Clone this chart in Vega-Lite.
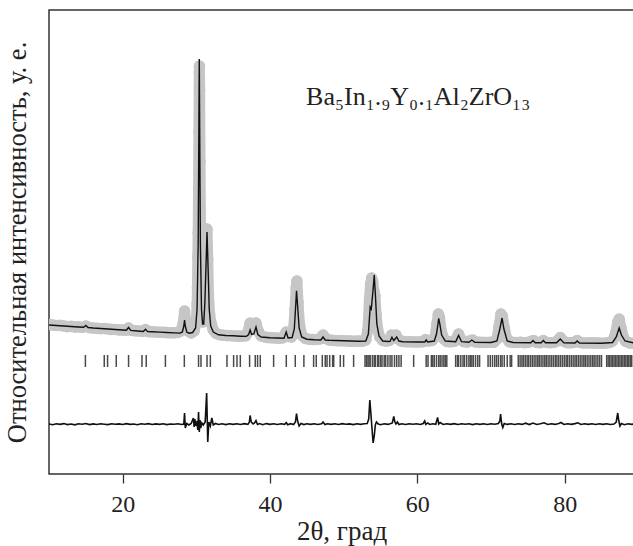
{
  "$schema": "https://vega.github.io/schema/vega-lite/v6.json",
  "autosize": "none",
  "width": 585,
  "height": 464,
  "padding": {"left": 49, "top": 10, "right": 0, "bottom": 72},
  "background": "white",
  "config": {
    "view": {"stroke": "#333333", "strokeWidth": 1.5},
    "font": "Liberation Serif, Times New Roman, Times, serif",
    "axis": {"labelFont": "Liberation Serif, Times New Roman, Times, serif", "titleFont": "Liberation Serif, Times New Roman, Times, serif", "grid": false, "domain": false, "titleFontWeight": "normal", "titleColor": "#222222", "labelColor": "#222222"},
    "axisX": {"tickSize": 9, "tickColor": "#333333", "tickWidth": 1.3, "labelFontSize": 24, "labelPadding": 9, "titleFontSize": 27, "titlePadding": 2},
    "axisY": {"labels": false, "ticks": false, "titleFontSize": 26.5, "titlePadding": 18}
  },
  "datasets": {
    "obs": [
      {"x":10,"y":149.5},{"x":10.5,"y":149},{"x":11,"y":148.5},{"x":11.5,"y":148.6},{"x":12,"y":148},{"x":12.5,"y":147.4},{"x":13,"y":147.6},{"x":13.5,"y":147},{"x":14,"y":147.2},{"x":14.5,"y":146.5},{"x":15,"y":148},{"x":15.5,"y":146.4},{"x":16,"y":146},{"x":16.5,"y":145.8},{"x":17,"y":145.4},{"x":17.5,"y":145.5},{"x":18,"y":145},{"x":18.5,"y":144.6},{"x":19,"y":144.5},{"x":19.5,"y":144.1},{"x":20,"y":144},{"x":20.5,"y":143.8},{"x":20.8,"y":146},{"x":21.2,"y":143.6},{"x":21.7,"y":143.2},{"x":22.2,"y":143},{"x":22.7,"y":142.6},{"x":23.1,"y":144.5},{"x":23.5,"y":142.3},{"x":24,"y":142.2},{"x":24.5,"y":142},{"x":25,"y":141.8},{"x":25.5,"y":141.7},{"x":26,"y":141.4},{"x":26.5,"y":141.2},{"x":27,"y":141.3},{"x":27.5,"y":141.6},{"x":27.9,"y":143},{"x":28.2,"y":150},{"x":28.4,"y":163},{"x":28.6,"y":152},{"x":28.9,"y":143},{"x":29.3,"y":141},{"x":29.7,"y":143},{"x":30.0,"y":152},{"x":30.1,"y":170},{"x":30.15,"y":187},{"x":30.2,"y":217},{"x":30.25,"y":241},{"x":30.3,"y":286},{"x":30.35,"y":342},{"x":30.4,"y":402},{"x":30.42,"y":408},{"x":30.45,"y":384},{"x":30.5,"y":312},{"x":30.55,"y":262},{"x":30.6,"y":204},{"x":30.65,"y":177},{"x":30.75,"y":160},{"x":30.9,"y":152},{"x":31.05,"y":158},{"x":31.2,"y":185},{"x":31.35,"y":225},{"x":31.45,"y":245},{"x":31.55,"y":215},{"x":31.65,"y":180},{"x":31.8,"y":160},{"x":32.0,"y":151},{"x":32.3,"y":144},{"x":32.7,"y":140.5},{"x":33.2,"y":139.3},{"x":33.7,"y":138.8},{"x":34.2,"y":138.4},{"x":34.7,"y":138.3},{"x":35.2,"y":138},{"x":35.7,"y":137.9},{"x":36.2,"y":137.8},{"x":36.7,"y":138.2},{"x":37.0,"y":142},{"x":37.3,"y":151},{"x":37.6,"y":146},{"x":37.85,"y":147},{"x":38.1,"y":151},{"x":38.4,"y":143},{"x":38.8,"y":138},{"x":39.3,"y":137},{"x":39.8,"y":136.4},{"x":40.3,"y":136.2},{"x":40.8,"y":136},{"x":41.3,"y":135.8},{"x":41.8,"y":136.3},{"x":42.2,"y":142},{"x":42.5,"y":137.5},{"x":42.9,"y":137},{"x":43.2,"y":145},{"x":43.4,"y":165},{"x":43.55,"y":186},{"x":43.65,"y":193},{"x":43.8,"y":172},{"x":44.0,"y":150},{"x":44.3,"y":139},{"x":44.8,"y":135.5},{"x":45.3,"y":134.8},{"x":45.8,"y":134.4},{"x":46.3,"y":134.5},{"x":46.8,"y":135},{"x":47.2,"y":139},{"x":47.6,"y":135.5},{"x":48.0,"y":134},{"x":48.5,"y":133.6},{"x":49,"y":133.4},{"x":49.5,"y":133.2},{"x":50,"y":133.3},{"x":50.5,"y":133},{"x":51,"y":132.9},{"x":51.5,"y":132.8},{"x":52,"y":132.9},{"x":52.5,"y":132.7},{"x":53.0,"y":134},{"x":53.3,"y":145},{"x":53.5,"y":175},{"x":53.65,"y":190},{"x":53.8,"y":196},{"x":53.95,"y":192},{"x":54.1,"y":183},{"x":54.25,"y":178},{"x":54.4,"y":160},{"x":54.6,"y":145},{"x":54.9,"y":137},{"x":55.3,"y":133.5},{"x":55.8,"y":132.8},{"x":56.2,"y":133.5},{"x":56.5,"y":139},{"x":56.8,"y":137},{"x":57.1,"y":139},{"x":57.4,"y":135},{"x":57.8,"y":133},{"x":58.3,"y":132.4},{"x":58.8,"y":132.2},{"x":59.3,"y":132.2},{"x":59.8,"y":132},{"x":60.3,"y":132.1},{"x":60.8,"y":132.3},{"x":61.1,"y":134.5},{"x":61.5,"y":133},{"x":62.0,"y":133.5},{"x":62.4,"y":137},{"x":62.65,"y":150},{"x":62.85,"y":160},{"x":63.0,"y":157},{"x":63.25,"y":143},{"x":63.6,"y":135},{"x":64.0,"y":132.5},{"x":64.5,"y":132.2},{"x":65.0,"y":132.6},{"x":65.35,"y":136},{"x":65.6,"y":140},{"x":65.9,"y":135},{"x":66.3,"y":132.3},{"x":66.8,"y":132},{"x":67.2,"y":133.5},{"x":67.5,"y":134},{"x":67.9,"y":132},{"x":68.4,"y":131.8},{"x":68.9,"y":131.6},{"x":69.4,"y":131.5},{"x":69.9,"y":131.7},{"x":70.4,"y":131.8},{"x":70.8,"y":135},{"x":71.1,"y":148},{"x":71.35,"y":160},{"x":71.55,"y":158},{"x":71.8,"y":146},{"x":72.1,"y":136},{"x":72.5,"y":132.2},{"x":73,"y":131.6},{"x":73.5,"y":131.5},{"x":74,"y":131.8},{"x":74.5,"y":131.3},{"x":75,"y":131.5},{"x":75.5,"y":132.8},{"x":75.8,"y":133.5},{"x":76.2,"y":131.5},{"x":76.7,"y":131.3},{"x":77.1,"y":133.5},{"x":77.5,"y":131.6},{"x":78,"y":131.3},{"x":78.5,"y":131.5},{"x":79.0,"y":133},{"x":79.4,"y":136.5},{"x":79.8,"y":133},{"x":80.3,"y":131.4},{"x":80.8,"y":131.2},{"x":81.3,"y":131.8},{"x":81.7,"y":133.5},{"x":82.1,"y":131.5},{"x":82.6,"y":131},{"x":83.1,"y":131},{"x":83.6,"y":131.2},{"x":84.1,"y":130.9},{"x":84.6,"y":131},{"x":85.1,"y":130.8},{"x":85.6,"y":131},{"x":86.1,"y":131.5},{"x":86.5,"y":133},{"x":86.9,"y":140},{"x":87.2,"y":152},{"x":87.4,"y":155},{"x":87.65,"y":146},{"x":87.95,"y":137},{"x":88.3,"y":132.5},{"x":88.8,"y":131},{"x":89.4,"y":130.8}
    ],
    "calc": [
      {"x":10,"y":149},{"x":11,"y":148.5},{"x":12,"y":148},{"x":13,"y":147.5},{"x":14,"y":147},{"x":14.7,"y":146.7},{"x":15.0,"y":148.5},{"x":15.3,"y":146.5},{"x":16,"y":146},{"x":17,"y":145.5},{"x":18,"y":145},{"x":19,"y":144.5},{"x":20,"y":144},{"x":20.5,"y":143.8},{"x":20.8,"y":146.5},{"x":21.1,"y":143.6},{"x":22,"y":143},{"x":22.8,"y":142.5},{"x":23.1,"y":144.8},{"x":23.4,"y":142.4},{"x":24,"y":142.3},{"x":25,"y":141.9},{"x":26,"y":141.5},{"x":27,"y":141.1},{"x":27.8,"y":140.9},{"x":28.1,"y":142},{"x":28.3,"y":148},{"x":28.4,"y":154},{"x":28.5,"y":148},{"x":28.7,"y":142},{"x":29,"y":140.8},{"x":29.5,"y":141.5},{"x":29.9,"y":146},{"x":30.1,"y":165},{"x":30.25,"y":230},{"x":30.4,"y":415},{"x":30.55,"y":230},{"x":30.7,"y":165},{"x":30.85,"y":150},{"x":31.0,"y":150},{"x":31.15,"y":170},{"x":31.3,"y":205},{"x":31.45,"y":242},{"x":31.6,"y":205},{"x":31.75,"y":165},{"x":31.95,"y":148},{"x":32.3,"y":142},{"x":33,"y":139.2},{"x":34,"y":138.5},{"x":35,"y":138.2},{"x":36,"y":137.8},{"x":36.8,"y":137.6},{"x":37.1,"y":139.5},{"x":37.3,"y":144},{"x":37.5,"y":139.5},{"x":37.8,"y":140},{"x":38.1,"y":147},{"x":38.35,"y":139.5},{"x":38.8,"y":137},{"x":40,"y":136.3},{"x":41,"y":136},{"x":41.9,"y":135.8},{"x":42.2,"y":142},{"x":42.45,"y":136},{"x":43,"y":136.5},{"x":43.3,"y":145},{"x":43.5,"y":170},{"x":43.6,"y":183.3},{"x":43.75,"y":168},{"x":43.95,"y":146},{"x":44.3,"y":137},{"x":45,"y":134.8},{"x":46,"y":134.3},{"x":46.9,"y":134},{"x":47.2,"y":137},{"x":47.5,"y":134},{"x":48,"y":133.7},{"x":50,"y":133.2},{"x":52,"y":132.8},{"x":53,"y":133},{"x":53.35,"y":140},{"x":53.6,"y":167},{"x":53.75,"y":165},{"x":54.0,"y":185},{"x":54.15,"y":199},{"x":54.3,"y":180},{"x":54.5,"y":150},{"x":54.8,"y":138},{"x":55.3,"y":133},{"x":56,"y":132.5},{"x":56.3,"y":132.7},{"x":56.55,"y":136.7},{"x":56.8,"y":133.5},{"x":57.2,"y":137},{"x":57.5,"y":133},{"x":58,"y":132.3},{"x":60,"y":132},{"x":61,"y":132},{"x":61.2,"y":134},{"x":61.4,"y":132},{"x":62.3,"y":133},{"x":62.6,"y":140},{"x":62.8,"y":150},{"x":62.9,"y":155.5},{"x":63.05,"y":150},{"x":63.3,"y":139},{"x":63.8,"y":133},{"x":65.2,"y":132.3},{"x":65.6,"y":138.5},{"x":66.0,"y":132.3},{"x":67,"y":131.8},{"x":67.4,"y":134},{"x":67.8,"y":131.8},{"x":70,"y":131.5},{"x":70.8,"y":133},{"x":71.2,"y":145},{"x":71.5,"y":156},{"x":71.75,"y":145},{"x":72.2,"y":133},{"x":73,"y":131.5},{"x":75.4,"y":131.3},{"x":75.7,"y":133.5},{"x":76,"y":131.3},{"x":76.8,"y":131.2},{"x":77.1,"y":133.5},{"x":77.4,"y":131.2},{"x":78.9,"y":131.2},{"x":79.4,"y":135},{"x":79.9,"y":131.1},{"x":81.4,"y":131},{"x":81.7,"y":133},{"x":82,"y":131},{"x":85,"y":130.8},{"x":86.5,"y":131.5},{"x":87.0,"y":137},{"x":87.4,"y":146},{"x":87.7,"y":139},{"x":88.2,"y":133},{"x":89.4,"y":131}
    ],
    "diff": [
      {"x":10,"y":50},{"x":10.5,"y":49.3},{"x":11,"y":50.2},{"x":11.5,"y":49.6},{"x":12,"y":50.4},{"x":12.5,"y":49.4},{"x":13,"y":50},{"x":13.5,"y":49.2},{"x":14,"y":50.3},{"x":14.5,"y":49.7},{"x":15,"y":50.5},{"x":15.5,"y":49.4},{"x":16,"y":50.1},{"x":16.5,"y":49.5},{"x":17,"y":50.2},{"x":17.5,"y":49.8},{"x":18,"y":49.4},{"x":18.5,"y":50.3},{"x":19,"y":49.7},{"x":19.5,"y":50.1},{"x":20,"y":49.5},{"x":20.5,"y":50.4},{"x":21,"y":49.6},{"x":21.5,"y":50},{"x":22,"y":49.3},{"x":22.5,"y":50.2},{"x":23,"y":49.8},{"x":23.5,"y":50.4},{"x":24,"y":49.5},{"x":24.5,"y":50.1},{"x":25,"y":49.6},{"x":25.5,"y":50.3},{"x":26,"y":49.4},{"x":26.5,"y":50},{"x":27,"y":49.7},{"x":27.5,"y":50.3},{"x":28.0,"y":49.5},{"x":28.3,"y":50},{"x":28.4,"y":61},{"x":28.5,"y":46},{"x":28.7,"y":50.5},{"x":29.0,"y":49},{"x":29.3,"y":50.5},{"x":29.6,"y":56},{"x":29.7,"y":47},{"x":29.8,"y":55},{"x":29.95,"y":48},{"x":30.1,"y":53},{"x":30.2,"y":44},{"x":30.3,"y":62},{"x":30.4,"y":42},{"x":30.5,"y":54},{"x":30.6,"y":46},{"x":30.75,"y":51},{"x":30.95,"y":49},{"x":31.2,"y":52},{"x":31.4,"y":81},{"x":31.55,"y":32},{"x":31.7,"y":52},{"x":31.9,"y":48},{"x":32.1,"y":56},{"x":32.3,"y":49},{"x":32.6,"y":50.5},{"x":33,"y":49.5},{"x":33.5,"y":50.2},{"x":34,"y":49.4},{"x":34.5,"y":50.3},{"x":35,"y":49.6},{"x":35.5,"y":50.2},{"x":36,"y":49.5},{"x":36.5,"y":50.4},{"x":37.0,"y":49.6},{"x":37.2,"y":52},{"x":37.3,"y":58.5},{"x":37.45,"y":52},{"x":37.7,"y":50},{"x":37.9,"y":51},{"x":38.1,"y":53.5},{"x":38.3,"y":49.5},{"x":38.6,"y":50.5},{"x":39,"y":49.3},{"x":39.5,"y":50.4},{"x":40,"y":49.6},{"x":40.5,"y":50.3},{"x":41,"y":49.5},{"x":41.5,"y":50.2},{"x":42,"y":49.7},{"x":42.2,"y":51.5},{"x":42.4,"y":49.2},{"x":42.8,"y":50.3},{"x":43.2,"y":49.5},{"x":43.45,"y":52},{"x":43.6,"y":60.5},{"x":43.75,"y":53},{"x":43.95,"y":48},{"x":44.2,"y":50.5},{"x":44.6,"y":49.4},{"x":45,"y":50.2},{"x":45.5,"y":49.6},{"x":46,"y":50.3},{"x":46.5,"y":49.5},{"x":47.0,"y":50.2},{"x":47.2,"y":52},{"x":47.45,"y":49.5},{"x":47.8,"y":50.3},{"x":48.3,"y":49.6},{"x":48.8,"y":50.2},{"x":49.3,"y":49.5},{"x":49.8,"y":50.4},{"x":50.3,"y":49.7},{"x":50.8,"y":50.1},{"x":51.3,"y":49.4},{"x":51.8,"y":50.3},{"x":52.3,"y":49.6},{"x":52.8,"y":50.2},{"x":53.2,"y":50.5},{"x":53.4,"y":55},{"x":53.55,"y":74},{"x":53.7,"y":60},{"x":53.85,"y":45},{"x":54.0,"y":31},{"x":54.15,"y":38},{"x":54.3,"y":49},{"x":54.45,"y":52},{"x":54.7,"y":50},{"x":55,"y":49.3},{"x":55.5,"y":50.3},{"x":56,"y":49.6},{"x":56.4,"y":50.5},{"x":56.6,"y":51},{"x":56.8,"y":57.5},{"x":56.95,"y":52},{"x":57.1,"y":50},{"x":57.3,"y":52},{"x":57.5,"y":49.5},{"x":57.9,"y":50.2},{"x":58.4,"y":49.5},{"x":58.9,"y":50.3},{"x":59.4,"y":49.7},{"x":59.9,"y":50.2},{"x":60.4,"y":49.5},{"x":60.8,"y":50.5},{"x":61.0,"y":53},{"x":61.15,"y":49.5},{"x":61.4,"y":51},{"x":61.7,"y":49.5},{"x":62.1,"y":50.3},{"x":62.5,"y":49.7},{"x":62.75,"y":56.5},{"x":62.9,"y":50},{"x":63.1,"y":51.5},{"x":63.5,"y":49.5},{"x":64,"y":50.2},{"x":64.5,"y":49.6},{"x":65,"y":50.4},{"x":65.5,"y":49.5},{"x":66,"y":50.3},{"x":66.5,"y":49.7},{"x":67,"y":50.2},{"x":67.5,"y":49.4},{"x":68,"y":50.3},{"x":68.5,"y":49.6},{"x":69,"y":50.2},{"x":69.5,"y":49.5},{"x":70,"y":50.3},{"x":70.5,"y":49.7},{"x":71.0,"y":50.5},{"x":71.2,"y":53},{"x":71.3,"y":60},{"x":71.45,"y":50},{"x":71.6,"y":46.5},{"x":71.8,"y":50.5},{"x":72.2,"y":49.6},{"x":72.7,"y":50.3},{"x":73.2,"y":49.5},{"x":73.7,"y":50.2},{"x":74.2,"y":49.6},{"x":74.7,"y":50.8},{"x":75.2,"y":49.4},{"x":75.7,"y":51},{"x":76.2,"y":49.5},{"x":76.7,"y":50.2},{"x":77.2,"y":51.2},{"x":77.7,"y":49.5},{"x":78.2,"y":50.3},{"x":78.7,"y":49.6},{"x":79.2,"y":50.6},{"x":79.5,"y":51.5},{"x":79.9,"y":49.5},{"x":80.4,"y":50.3},{"x":80.9,"y":49.6},{"x":81.4,"y":50.4},{"x":81.8,"y":51.2},{"x":82.2,"y":49.5},{"x":82.7,"y":50.2},{"x":83.2,"y":49.6},{"x":83.7,"y":50.3},{"x":84.2,"y":49.5},{"x":84.7,"y":50.2},{"x":85.2,"y":49.6},{"x":85.7,"y":50.3},{"x":86.2,"y":49.5},{"x":86.7,"y":50},{"x":87.0,"y":52},{"x":87.2,"y":61},{"x":87.35,"y":53},{"x":87.5,"y":48},{"x":87.7,"y":50.5},{"x":88.1,"y":49.3},{"x":88.6,"y":50.2},{"x":89.1,"y":49.6},{"x":89.4,"y":50}
    ],
    "bragg": [
      {"x":14.94},{"x":17.5},{"x":17.95},{"x":19.13},{"x":20.8},{"x":22.62},{"x":23.2},{"x":25.8},{"x":28.37},{"x":30.3},{"x":30.63},{"x":31.45},{"x":31.9},{"x":34.16},{"x":35.06},{"x":35.52},{"x":35.97},{"x":37.23},{"x":38.0},{"x":38.31},{"x":38.68},{"x":40.49},{"x":42.21},{"x":43.43},{"x":44.6},{"x":45.92},{"x":46.28},{"x":47.1},{"x":47.5},{"x":47.74},{"x":48.1},{"x":48.5},{"x":48.65},{"x":49.54},{"x":49.99},{"x":51.35},
      {"x":52.9},{"x":53.1},{"x":53.3},{"x":53.45},{"x":53.6},{"x":53.9},{"x":54.15},{"x":54.3},{"x":54.6},{"x":54.75},{"x":55.0},{"x":55.2},{"x":55.5},{"x":55.7},{"x":56.0},{"x":56.3},{"x":56.55},{"x":56.9},{"x":57.2},{"x":57.5},{"x":57.8},
      {"x":59.5},
      {"x":61.2},{"x":61.45},{"x":61.9},{"x":62.1},{"x":62.3},{"x":62.6},{"x":62.9},{"x":63.1},{"x":63.35},{"x":63.6},{"x":63.8},{"x":64.0},
      {"x":65.2},{"x":65.45},{"x":65.6},{"x":65.9},{"x":66.2},{"x":66.4},{"x":66.7},{"x":67.0},{"x":67.2},{"x":67.4},{"x":67.6},{"x":67.9},{"x":68.2},{"x":68.45},
      {"x":69.6},{"x":69.9},{"x":70.2},{"x":70.5},{"x":70.75},{"x":71.0},{"x":71.3},{"x":71.5},{"x":71.8},{"x":72.2},{"x":72.6},{"x":72.8},
      {"x":73.7},{"x":73.95},{"x":74.2},{"x":74.4},{"x":74.65},{"x":74.9},{"x":75.1},{"x":75.35},{"x":75.6},{"x":75.85},{"x":76.1},{"x":76.35},{"x":76.55},{"x":76.8},{"x":77.05},{"x":77.3},{"x":77.5},{"x":77.75},{"x":78.0},{"x":78.25},{"x":78.5},{"x":78.75},{"x":78.95},{"x":79.2},{"x":79.45},{"x":79.7},{"x":79.95},{"x":80.2},{"x":80.4},{"x":80.65},{"x":80.9},{"x":81.15},{"x":81.4},{"x":81.6},{"x":81.85},{"x":82.1},{"x":82.35},{"x":82.6},{"x":82.8},{"x":83.05},{"x":83.3},{"x":83.55},{"x":83.8},{"x":84.0},{"x":84.25},{"x":84.5},{"x":84.75},{"x":85.0},
      {"x":85.7},{"x":85.9},{"x":86.1},{"x":86.3},{"x":86.5},{"x":86.7},{"x":86.9},{"x":87.1},{"x":87.3},{"x":87.5},{"x":87.7},{"x":87.9},{"x":88.1},{"x":88.3},{"x":88.5},{"x":88.7},{"x":88.9},{"x":89.1}
    ]
  },
  "layer": [
    {
      "data": {"name": "obs"},
      "mark": {"type": "line", "color": "#c6c6c6", "strokeWidth": 11, "strokeCap": "round", "strokeJoin": "round", "clip": true},
      "encoding": {
        "x": {"field": "x", "type": "quantitative", "scale": {"domain": [10, 89.41], "nice": false, "zero": false}, "axis": {"values": [20, 40, 60, 80], "title": "2θ, град"}},
        "y": {"field": "y", "type": "quantitative", "scale": {"domain": [0, 464], "nice": false, "zero": false}, "axis": {"title": "Относительная интенсивность, у. е."}}
      }
    },
    {
      "data": {"name": "obs"},
      "mark": {"type": "circle", "color": "#c6c6c6", "size": 135, "opacity": 1, "clip": true},
      "encoding": {
        "x": {"field": "x", "type": "quantitative", "axis": {"values": [20, 40, 60, 80], "title": "2θ, град"}},
        "y": {"field": "y", "type": "quantitative", "axis": {"title": "Относительная интенсивность, у. е."}}
      }
    },
    {
      "data": {"name": "calc"},
      "mark": {"type": "line", "color": "#111111", "strokeWidth": 1.4, "clip": true},
      "encoding": {
        "x": {"field": "x", "type": "quantitative", "axis": {"values": [20, 40, 60, 80], "title": "2θ, град"}},
        "y": {"field": "y", "type": "quantitative", "axis": {"title": "Относительная интенсивность, у. е."}}
      }
    },
    {
      "data": {"name": "diff"},
      "mark": {"type": "line", "color": "#111111", "strokeWidth": 1.6, "clip": true},
      "encoding": {
        "x": {"field": "x", "type": "quantitative", "axis": {"values": [20, 40, 60, 80], "title": "2θ, град"}},
        "y": {"field": "y", "type": "quantitative", "axis": {"title": "Относительная интенсивность, у. е."}}
      }
    },
    {
      "data": {"name": "bragg"},
      "mark": {"type": "rule", "color": "#4a4a4a", "strokeWidth": 1.5, "clip": true},
      "encoding": {
        "x": {"field": "x", "type": "quantitative", "axis": {"values": [20, 40, 60, 80], "title": "2θ, град"}},
        "y": {"datum": 107, "type": "quantitative", "axis": {"title": "Относительная интенсивность, у. е."}},
        "y2": {"datum": 119}
      }
    },
    {
      "data": {"values": [{"label": "Ba₅In₁.₉Y₀.₁Al₂ZrO₁₃"}]},
      "mark": {"type": "text", "align": "left", "baseline": "alphabetic", "fontSize": 26, "color": "#222222"},
      "encoding": {
        "x": {"datum": 44.9, "type": "quantitative", "axis": {"values": [20, 40, 60, 80], "title": "2θ, град"}},
        "y": {"datum": 369, "type": "quantitative", "axis": {"title": "Относительная интенсивность, у. е."}},
        "text": {"field": "label"}
      }
    }
  ]
}
